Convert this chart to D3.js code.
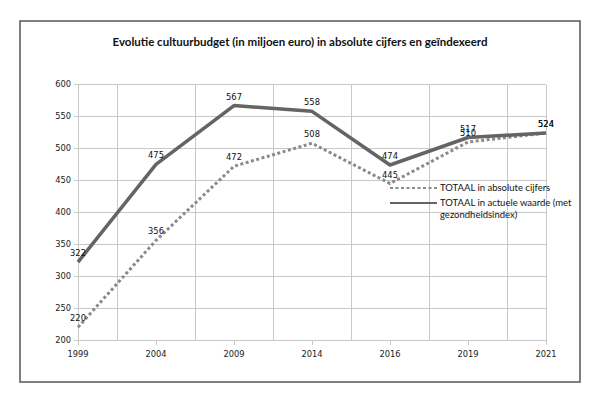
<!DOCTYPE html>
<html><head><meta charset="utf-8">
<script src="https://cdn.jsdelivr.net/npm/d3@7/dist/d3.min.js"></script>
<style>body{margin:0;background:#fff}svg{display:block}</style>
</head><body>
<svg id="c" width="600" height="399"></svg>
<script>
const years = ["1999","2004","2009","2014","2016","2019","2021"];
const absoluut = [220, 356, 472, 508, 445, 510, 524];
const actueel = [322, 475, 567, 558, 474, 517, 524];
const yTicks = [200,250,300,350,400,450,500,550,600];
const title = "Evolutie cultuurbudget (in miljoen euro) in absolute cijfers en geïndexeerd";
const legendLabels = ["TOTAAL in absolute cijfers", ["TOTAAL in actuele waarde (met","gezondheidsindex)"]];

const svg = d3.select("#c");
const font = "DejaVu Sans";
const titleFont = "Lato";
svg.append("rect").attr("x",20).attr("y",21).attr("width",560).attr("height",361)
  .attr("fill","#fff").attr("stroke","#555").attr("stroke-width",1.5);

svg.append("text").attr("x",300).attr("y",46).attr("text-anchor","middle")
  .attr("font-family",titleFont).attr("font-weight","bold").attr("font-size",11.5)
  .attr("fill","#111").text(title);

const x = d3.scalePoint().domain(years).range([78,546]);
const y = d3.scaleLinear().domain([200,600]).range([340,84.5]);
const step = x.step();

const grid = svg.append("g").attr("stroke","#c8c8c8").attr("stroke-width",1).attr("shape-rendering","crispEdges");
grid.selectAll("line.h").data(yTicks).join("line").attr("class","h")
  .attr("x1",74).attr("x2",546).attr("y1",d=>y(d)).attr("y2",d=>y(d));
grid.selectAll("line.v").data(years.slice(0,-1)).join("line").attr("class","v")
  .attr("x1",d=>x(d)+step/2).attr("x2",d=>x(d)+step/2).attr("y1",y(600)).attr("y2",y(200));
grid.append("line").attr("x1",546).attr("x2",546).attr("y1",y(600)).attr("y2",y(200));
grid.append("line").attr("x1",78).attr("x2",78).attr("y1",y(600)).attr("y2",y(200));
grid.selectAll("line.t").data(years).join("line").attr("class","t")
  .attr("x1",d=>x(d)).attr("x2",d=>x(d)).attr("y1",y(200)).attr("y2",y(200)+5);

svg.append("g").selectAll("text").data(yTicks).join("text")
  .attr("x",71).attr("y",d=>y(d)).attr("dy","0.35em").attr("text-anchor","end")
  .attr("font-family",font).attr("font-size",8.3).attr("fill","#222").text(d=>d);
svg.append("g").selectAll("text").data(years).join("text")
  .attr("x",d=>x(d)).attr("y",357).attr("text-anchor","middle")
  .attr("font-family",font).attr("font-size",8.3).attr("fill","#222").text(d=>d);

const line = d3.line().x((d,i)=>x(years[i])).y(d=>y(d));
svg.append("path").datum(absoluut).attr("d",line).attr("fill","none")
  .attr("stroke","#8a8a8a").attr("stroke-width",3).attr("stroke-dasharray","3,2.5");
svg.append("path").datum(actueel).attr("d",line).attr("fill","none")
  .attr("stroke","#646464").attr("stroke-width",3.5).attr("stroke-linejoin","round");

function labels(data){
  svg.append("g").selectAll("text").data(data).join("text")
    .attr("x",(d,i)=>x(years[i])).attr("y",d=>y(d)-6).attr("text-anchor","middle")
    .attr("font-family",font).attr("font-size",8.3).attr("fill","#111").text(d=>d);
}
labels(absoluut);
labels(actueel);

const lg = svg.append("g");
lg.append("line").attr("x1",390).attr("x2",437).attr("y1",188).attr("y2",188)
  .attr("stroke","#8a8a8a").attr("stroke-width",2).attr("stroke-dasharray","3,2.5");
lg.append("line").attr("x1",390).attr("x2",437).attr("y1",203).attr("y2",203)
  .attr("stroke","#646464").attr("stroke-width",2);
lg.append("text").attr("x",440).attr("y",188).attr("dy","0.35em")
  .attr("font-family",titleFont).attr("font-size",9.5).attr("fill","#111").text(legendLabels[0]);
lg.append("text").attr("x",440).attr("y",203).attr("dy","0.35em")
  .attr("font-family",titleFont).attr("font-size",9.5).attr("fill","#111").text(legendLabels[1][0]);
lg.append("text").attr("x",440).attr("y",215).attr("dy","0.35em")
  .attr("font-family",titleFont).attr("font-size",9.5).attr("fill","#111").text(legendLabels[1][1]);
</script>
</body></html>
